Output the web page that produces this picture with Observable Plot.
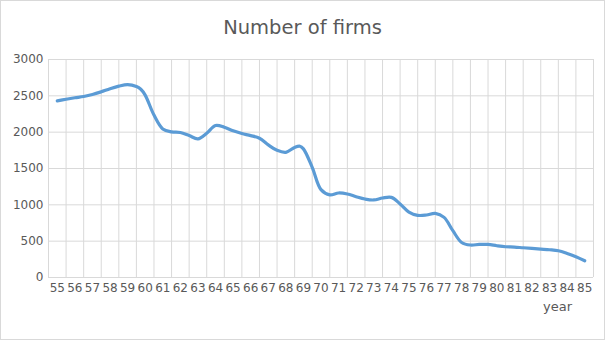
<!DOCTYPE html>
<html>
<head>
<meta charset="utf-8">
<script src="https://cdn.jsdelivr.net/npm/d3@7"></script>
<script src="https://cdn.jsdelivr.net/npm/@observablehq/plot@0.6"></script>
<style>
  html, body { margin: 0; padding: 0; background: #fff; }
  #chart { position: relative; width: 605px; height: 340px; outline: 1px solid #d9d9d9; outline-offset: -1px; font-family: "DejaVu Sans", sans-serif; }
  #title { box-sizing: border-box; height: 40px; padding-top: 16px; line-height: 24px; text-align: center; font-size: 19.5px; color: #595959; }
  svg { display: block; }
</style>
</head>
<body>
<div id="chart">
  <div id="title">Number of firms</div>
</div>
<script>
// Category labels on the x axis
const yearLabels = [55,56,57,58,59,60,61,62,63,64,65,66,67,68,69,70,71,72,73,74,75,76,77,78,79,80,81,82,83,84,85];
// Sample positions (years)
const sampleYears = [55,55.5,56,56.5,57,57.5,58,58.5,59,59.5,59.75,60,60.5,61,61.5,62,62.5,63,63.5,64,64.5,65,65.5,66,66.5,67,67.5,68,68.5,68.8,69,69.5,70,70.5,71,71.5,72,72.5,73,73.5,74,74.5,75,75.5,76,76.5,77,77.5,78,78.5,79,79.5,80,80.5,81,81.5,82,82.5,83,83.5,84,84.5,85];
// Number of firms at each sample position
const firms = [2431,2453,2473,2491,2518,2555,2597,2633,2655,2628,2590,2510,2235,2045,2004,1995,1953,1908,1985,2091,2068,2018,1981,1953,1916,1825,1750,1723,1790,1806,1770,1516,1209,1138,1163,1149,1112,1080,1067,1094,1103,1012,900,855,860,882,827,644,482,447,455,455,437,423,419,409,400,391,382,368,331,285,230];
const yTicks = [0,500,1000,1500,2000,2500,3000];
const xLabel = "year";

const data = sampleYears.map((x, i) => ({year: x, firms: firms[i]}));
const boundaries = yearLabels.map(y => y - 0.5).concat([yearLabels[yearLabels.length - 1] + 0.5]);
const hGrid = yTicks.map(v => ({v}));
const vGrid = boundaries.map(b => ({b}));

const plot = Plot.plot({
  width: 605,
  height: 300,
  marginTop: 19,
  marginBottom: 63,
  marginLeft: 48,
  marginRight: 12,
  style: {fontFamily: "DejaVu Sans, sans-serif", fontSize: "12px", color: "#595959", background: "transparent"},
  x: {type: "linear", domain: [boundaries[0], boundaries[boundaries.length - 1]]},
  y: {domain: [0, 3000]},
  marks: [
    Plot.ruleY(hGrid, {y: "v", stroke: "#d9d9d9", strokeWidth: 1}),
    Plot.ruleX(vGrid, {x: "b", stroke: "#d9d9d9", strokeWidth: 1}),
    Plot.axisY({ticks: yTicks, tickSize: 0, tickPadding: 5, tickFormat: d => String(d), label: null, fill: "#595959", fontSize: 12}),
    Plot.axisX({ticks: yearLabels, tickSize: 0, tickPadding: 6, tickFormat: d => String(d), label: null, fill: "#595959", fontSize: 12}),
    Plot.line(data, {x: "year", y: "firms", stroke: "#5B9BD5", strokeWidth: 3.2, curve: "catmull-rom"}),
    Plot.text([xLabel], {frameAnchor: "bottom-right", dx: -36, dy: 33, text: d => d, fill: "#595959", fontSize: 13, textAnchor: "middle"})
  ]
});
document.getElementById("chart").appendChild(plot);
</script>
</body>
</html>
